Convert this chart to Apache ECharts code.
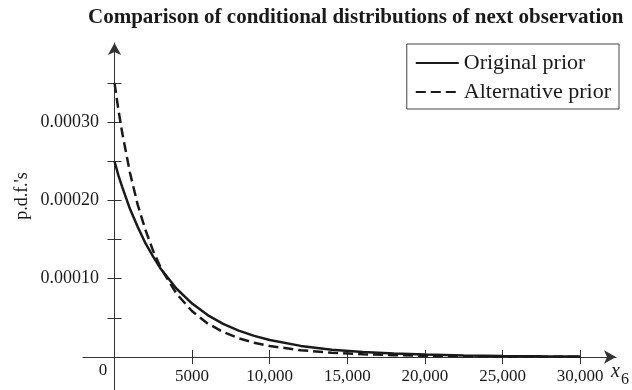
<!DOCTYPE html>
<html>
<head>
<meta charset="utf-8">
<script src="https://cdn.jsdelivr.net/npm/echarts@6/dist/echarts.min.js"></script>
<style>
  html, body { margin: 0; padding: 0; background: #fff; }
  #graph { width: 632px; height: 390px; }
</style>
</head>
<body>
<div id="graph"></div>
<script>
// predictive p.d.f. of the next observation under two priors
var myChart = echarts.init(document.getElementById('graph'));
var title = 'Comparison of conditional distributions of next observation';
var legendData = ['Original prior', 'Alternative prior'];
var xVals = [0, 250, 500, 1000, 1500, 2000, 2500, 3000, 4000, 5000, 6000, 7000, 8000, 9000,
             10000, 12000, 14000, 16000, 18000, 20000, 22500, 25000, 27500, 30000];
var origVals = [0.00025, 0.000232, 0.000217, 0.000189, 0.000166, 0.000145, 0.000128, 0.000112,
                0.0000872, 0.0000682, 0.0000536, 0.0000424, 0.0000337, 0.000027, 0.0000217,
                0.0000142, 0.0000094, 0.0000064, 0.0000044, 0.0000031, 0.000002, 0.0000013,
                0.0000009, 0.0000006];
var altVals = [0.00035, 0.000316, 0.000286, 0.000235, 0.000194, 0.000162, 0.000135, 0.000113,
               0.0000807, 0.0000584, 0.0000429, 0.0000319, 0.000024, 0.0000183, 0.0000141,
               0.0000086, 0.0000054, 0.0000035, 0.0000023, 0.0000016, 0.000001, 0.00000065,
               0.00000043, 0.0000003];
var xTicks = [5000, 10000, 15000, 20000, 25000, 30000];
var yTicks = [0.00005, 0.0001, 0.00015, 0.0002, 0.00025, 0.0003, 0.00035];
var yLabels = [0.0001, 0.0002, 0.0003];

var font = 'Liberation Serif';
var ink = '#1a1a1a';
var axisCol = '#333';

function pairs(ys) {
    var out = [];
    for (var i = 0; i < xVals.length; i++) out.push([xVals[i], ys[i]]);
    return out;
}
function fmtX(v) {
    return v >= 10000 ? (v / 1000) + ',000' : String(v);
}

var xBase = {
    type: 'value', min: -2030, max: 32310, position: 'bottom',
    splitLine: { show: false }
};
var yBase = {
    type: 'value', min: -0.00004215, max: 0.0004011, position: 'left',
    splitLine: { show: false }
};

var option = {
    backgroundColor: '#fff',
    animation: false,
    title: {
        text: title, left: 83, top: 2,
        textStyle: { fontFamily: font, fontWeight: 'bold', fontSize: 21, color: ink }
    },
    legend: {
        data: legendData, orient: 'vertical', right: 13, top: 44,
        borderColor: '#444', borderWidth: 1, borderRadius: 0,
        padding: [8, 8, 6, 8], itemGap: 7, itemWidth: 43, itemHeight: 14,
        itemStyle: { opacity: 0, borderWidth: 0 },
        textStyle: { fontFamily: font, fontSize: 22, color: ink }
    },
    grid: { left: 83, right: 16, top: 43, bottom: 0, outerBoundsMode: 'none', containLabel: false },
    xAxis: [
        Object.assign({}, xBase, {
            axisLine: { onZero: true, symbol: ['none', 'arrow'], symbolSize: [10, 12],
                        lineStyle: { color: axisCol, width: 1 } },
            axisTick: { inside: false, length: 7, customValues: xTicks, lineStyle: { color: axisCol } },
            // labels sit against the grid edge, so pull them back to the zero line
            axisLabel: { customValues: xTicks, formatter: fmtX, margin: -22,
                         fontFamily: font, fontSize: 17, color: ink }
        }),
        Object.assign({}, xBase, {
            axisLine: { onZero: true, show: false },
            axisTick: { inside: true, length: 7, customValues: xTicks, lineStyle: { color: axisCol } },
            axisLabel: { show: false }
        })
    ],
    yAxis: [
        Object.assign({}, yBase, {
            axisLine: { onZero: true, symbol: ['none', 'arrow'], symbolSize: [10, 12],
                        lineStyle: { color: axisCol, width: 1 } },
            axisTick: { inside: false, length: 7, customValues: yTicks, lineStyle: { color: axisCol } },
            axisLabel: { customValues: yLabels, margin: -16,
                         formatter: function (v) { return v.toFixed(5); },
                         fontFamily: font, fontSize: 18, color: ink }
        }),
        Object.assign({}, yBase, {
            axisLine: { onZero: true, show: false },
            axisTick: { inside: true, length: 7, customValues: yTicks, lineStyle: { color: axisCol } },
            axisLabel: { show: false }
        })
    ],
    graphic: [
        { type: 'text', x: 103, y: 371, style: { text: '0', fill: ink, font: '17px "Liberation Serif"',
          align: 'center', verticalAlign: 'middle' } },
        { type: 'text', x: 22, y: 196, rotation: Math.PI / 2,
          style: { text: "p.d.f.'s", fill: ink, font: '18px "Liberation Serif"',
                   align: 'center', verticalAlign: 'middle' } },
        { type: 'text', x: 611, y: 372, style: { text: 'x', fill: ink, font: 'italic 20px "Liberation Serif"',
          align: 'left', verticalAlign: 'middle' } },
        { type: 'text', x: 621, y: 380, style: { text: '6', fill: ink, font: '16px "Liberation Serif"',
          align: 'left', verticalAlign: 'middle' } }
    ],
    series: [
        {
            name: legendData[0], type: 'line', data: pairs(origVals),
            xAxisIndex: 0, yAxisIndex: 0, symbol: 'none',
            lineStyle: { color: ink, width: 2.5, type: 'solid' }, itemStyle: { color: ink }
        },
        {
            name: legendData[1], type: 'line', data: pairs(altVals),
            xAxisIndex: 0, yAxisIndex: 0, symbol: 'none',
            lineStyle: { color: ink, width: 2.5, type: [10, 5] }, itemStyle: { color: ink }
        }
    ]
};

myChart.setOption(option);
</script>
</body>
</html>
